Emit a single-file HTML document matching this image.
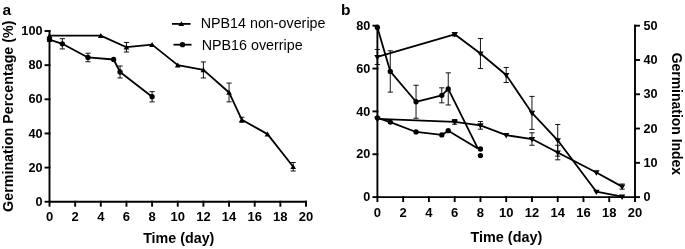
<!DOCTYPE html>
<html><head><meta charset="utf-8"><title>Germination</title>
<style>html,body{margin:0;padding:0;background:#fff}svg{display:block}</style></head>
<body>
<svg width="685" height="249" viewBox="0 0 685 249" font-family="'Liberation Sans', Arial, sans-serif">
<rect width="685" height="249" fill="#fff"/>
<g stroke="#000" stroke-width="1.9" fill="none" stroke-linecap="square">
<path d="M49.5 31V201.75H306"/>
<path d="M45.5 201.75H49.5"/>
<path d="M45.5 167.6H49.5"/>
<path d="M45.5 133.45H49.5"/>
<path d="M45.5 99.3H49.5"/>
<path d="M45.5 65.15H49.5"/>
<path d="M45.5 31H49.5"/>
<path d="M49.5 201.75V205.75"/>
<path d="M75.15 201.75V205.75"/>
<path d="M100.8 201.75V205.75"/>
<path d="M126.45 201.75V205.75"/>
<path d="M152.1 201.75V205.75"/>
<path d="M177.75 201.75V205.75"/>
<path d="M203.4 201.75V205.75"/>
<path d="M229.05 201.75V205.75"/>
<path d="M254.7 201.75V205.75"/>
<path d="M280.35 201.75V205.75"/>
<path d="M306 201.75V205.75"/>
</g>
<g font-weight="bold" font-size="13" fill="#000">
<text x="42.5" y="205.85" text-anchor="end" font-size="12.7">0</text>
<text x="42.5" y="171.7" text-anchor="end" font-size="12.7">20</text>
<text x="42.5" y="137.55" text-anchor="end" font-size="12.7">40</text>
<text x="42.5" y="103.4" text-anchor="end" font-size="12.7">60</text>
<text x="42.5" y="69.25" text-anchor="end" font-size="12.7">80</text>
<text x="42.5" y="35.1" text-anchor="end" font-size="12.7">100</text>
<text x="49.5" y="221.35" text-anchor="middle">0</text>
<text x="75.15" y="221.35" text-anchor="middle">2</text>
<text x="100.8" y="221.35" text-anchor="middle">4</text>
<text x="126.45" y="221.35" text-anchor="middle">6</text>
<text x="152.1" y="221.35" text-anchor="middle">8</text>
<text x="177.75" y="221.35" text-anchor="middle">10</text>
<text x="203.4" y="221.35" text-anchor="middle">12</text>
<text x="229.05" y="221.35" text-anchor="middle">14</text>
<text x="254.7" y="221.35" text-anchor="middle">16</text>
<text x="280.35" y="221.35" text-anchor="middle">18</text>
<text x="306" y="221.35" text-anchor="middle">20</text>
</g>
<text x="178.75" y="243.4" text-anchor="middle" font-weight="bold" font-size="14.3">Time (day)</text>
<text transform="translate(12.7 116.2) rotate(-90)" text-anchor="middle" font-weight="bold" font-size="14.3">Germination Percentage (%)</text>
<text x="2.6" y="14.7" font-weight="bold" font-size="15.5">a</text>
<path d="M49.5 35.61L100.8 35.61L126.45 47.22L152.1 44.66L177.75 65.15L203.4 69.93L229.05 92.47L241.88 119.79L267.52 134.13L293.18 166.75" fill="none" stroke="#000" stroke-width="1.8" stroke-linejoin="round"/>
<path d="M126.45 42.44V52M123.85 42.44h5.2M123.85 52h5.2" fill="none" stroke="#000" stroke-width="1" stroke-opacity="0.92"/>
<path d="M203.4 61.91V77.96M200.8 61.91h5.2M200.8 77.96h5.2" fill="none" stroke="#000" stroke-width="1" stroke-opacity="0.92"/>
<path d="M229.05 83.08V101.86M226.45 83.08h5.2M226.45 101.86h5.2" fill="none" stroke="#000" stroke-width="1" stroke-opacity="0.92"/>
<path d="M241.88 117.23V122.35M239.28 117.23h5.2M239.28 122.35h5.2" fill="none" stroke="#000" stroke-width="1" stroke-opacity="0.92"/>
<path d="M293.18 162.48V171.01M290.57 162.48h5.2M290.57 171.01h5.2" fill="none" stroke="#000" stroke-width="1" stroke-opacity="0.92"/>
<path d="M49.5 33.01l2.85 4.9h-5.7z"/>
<path d="M100.8 33.01l2.85 4.9h-5.7z"/>
<path d="M126.45 44.62l2.85 4.9h-5.7z"/>
<path d="M152.1 42.06l2.85 4.9h-5.7z"/>
<path d="M177.75 62.55l2.85 4.9h-5.7z"/>
<path d="M203.4 67.33l2.85 4.9h-5.7z"/>
<path d="M229.05 89.87l2.85 4.9h-5.7z"/>
<path d="M241.88 117.19l2.85 4.9h-5.7z"/>
<path d="M267.52 131.53l2.85 4.9h-5.7z"/>
<path d="M293.18 164.15l2.85 4.9h-5.7z"/>
<path d="M49.5 39.54L62.33 43.81L87.97 57.47L113.62 59.52L120.04 71.98L152.1 96.74" fill="none" stroke="#000" stroke-width="1.8" stroke-linejoin="round"/>
<path d="M49.5 37.83V41.25M46.9 37.83h5.2M46.9 41.25h5.2" fill="none" stroke="#000" stroke-width="1" stroke-opacity="0.92"/>
<path d="M62.33 38.68V48.93M59.73 38.68h5.2M59.73 48.93h5.2" fill="none" stroke="#000" stroke-width="1" stroke-opacity="0.92"/>
<path d="M87.97 53.2V61.74M85.38 53.2h5.2M85.38 61.74h5.2" fill="none" stroke="#000" stroke-width="1" stroke-opacity="0.92"/>
<path d="M120.04 66V77.96M117.44 66h5.2M117.44 77.96h5.2" fill="none" stroke="#000" stroke-width="1" stroke-opacity="0.92"/>
<path d="M152.1 91.62V101.86M149.5 91.62h5.2M149.5 101.86h5.2" fill="none" stroke="#000" stroke-width="1" stroke-opacity="0.92"/>
<circle cx="49.5" cy="39.54" r="2.65"/>
<circle cx="62.33" cy="43.81" r="2.65"/>
<circle cx="87.97" cy="57.47" r="2.65"/>
<circle cx="113.62" cy="59.52" r="2.65"/>
<circle cx="120.04" cy="71.98" r="2.65"/>
<circle cx="152.1" cy="96.74" r="2.65"/>
<path d="M172 23.9h18.6" stroke="#000" stroke-width="1.8"/><path d="M181.3 21.2l2.85 4.9h-5.7z"/>
<path d="M173.5 44.7h18" stroke="#000" stroke-width="1.8"/><circle cx="182.5" cy="44.7" r="2.65"/>
<text x="200.7" y="28.3" font-size="14.3">NPB14 non-overipe</text>
<text x="201.7" y="49.7" font-size="14.3">NPB16 overripe</text>
<g stroke="#000" stroke-width="1.9" fill="none" stroke-linecap="square">
<path d="M377.4 25.7V197.1H635V25.7"/>
<path d="M373.4 197.1H377.4"/>
<path d="M373.4 154.25H377.4"/>
<path d="M373.4 111.4H377.4"/>
<path d="M373.4 68.55H377.4"/>
<path d="M373.4 25.7H377.4"/>
<path d="M635 197.1H639"/>
<path d="M635 162.82H639"/>
<path d="M635 128.54H639"/>
<path d="M635 94.26H639"/>
<path d="M635 59.98H639"/>
<path d="M635 25.7H639"/>
<path d="M377.4 197.1V201.1"/>
<path d="M403.16 197.1V201.1"/>
<path d="M428.92 197.1V201.1"/>
<path d="M454.68 197.1V201.1"/>
<path d="M480.44 197.1V201.1"/>
<path d="M506.2 197.1V201.1"/>
<path d="M531.96 197.1V201.1"/>
<path d="M557.72 197.1V201.1"/>
<path d="M583.48 197.1V201.1"/>
<path d="M609.24 197.1V201.1"/>
<path d="M635 197.1V201.1"/>
</g>
<g font-weight="bold" font-size="13" fill="#000">
<text x="370.4" y="201.2" text-anchor="end" font-size="12.7">0</text>
<text x="370.4" y="158.35" text-anchor="end" font-size="12.7">20</text>
<text x="370.4" y="115.5" text-anchor="end" font-size="12.7">40</text>
<text x="370.4" y="72.65" text-anchor="end" font-size="12.7">60</text>
<text x="370.4" y="29.8" text-anchor="end" font-size="12.7">80</text>
<text x="643.4" font-size="12.7" y="201.2">0</text>
<text x="643.4" font-size="12.7" y="166.92">10</text>
<text x="643.4" font-size="12.7" y="132.64">20</text>
<text x="643.4" font-size="12.7" y="98.36">30</text>
<text x="643.4" font-size="12.7" y="64.08">40</text>
<text x="643.4" font-size="12.7" y="29.8">50</text>
<text x="377.4" y="216.8" text-anchor="middle">0</text>
<text x="403.16" y="216.8" text-anchor="middle">2</text>
<text x="428.92" y="216.8" text-anchor="middle">4</text>
<text x="454.68" y="216.8" text-anchor="middle">6</text>
<text x="480.44" y="216.8" text-anchor="middle">8</text>
<text x="506.2" y="216.8" text-anchor="middle">10</text>
<text x="531.96" y="216.8" text-anchor="middle">12</text>
<text x="557.72" y="216.8" text-anchor="middle">14</text>
<text x="583.48" y="216.8" text-anchor="middle">16</text>
<text x="609.24" y="216.8" text-anchor="middle">18</text>
<text x="635" y="216.8" text-anchor="middle">20</text>
</g>
<text x="506.4" y="241.7" text-anchor="middle" font-weight="bold" font-size="14.4">Time (day)</text>
<text transform="translate(672.2 113.9) rotate(90)" text-anchor="middle" font-weight="bold" font-size="13.95">Germination Index</text>
<text x="341" y="14.9" font-weight="bold" font-size="15.5">b</text>
<path d="M377.4 56.98L454.68 34.27L480.44 53.55L506.2 74.98L531.96 112.9L557.72 140.32L596.36 191.74L622.12 196.67" fill="none" stroke="#000" stroke-width="1.8" stroke-linejoin="round"/>
<path d="M377.4 49.48V64.48M374.8 49.48h5.2M374.8 64.48h5.2" fill="none" stroke="#000" stroke-width="1" stroke-opacity="0.92"/>
<path d="M454.68 32.56V35.98M452.08 32.56h5.2M452.08 35.98h5.2" fill="none" stroke="#000" stroke-width="1" stroke-opacity="0.92"/>
<path d="M480.44 38.55V68.55M477.84 38.55h5.2M477.84 68.55h5.2" fill="none" stroke="#000" stroke-width="1" stroke-opacity="0.92"/>
<path d="M506.2 67.48V82.48M503.6 67.48h5.2M503.6 82.48h5.2" fill="none" stroke="#000" stroke-width="1" stroke-opacity="0.92"/>
<path d="M531.96 96.4V129.4M529.36 96.4h5.2M529.36 129.4h5.2" fill="none" stroke="#000" stroke-width="1" stroke-opacity="0.92"/>
<path d="M557.72 124.47V156.18M555.12 124.47h5.2M555.12 156.18h5.2" fill="none" stroke="#000" stroke-width="1" stroke-opacity="0.92"/>
<path d="M377.4 60.28l3.2 -5.4h-6.4z"/>
<path d="M454.68 37.57l3.2 -5.4h-6.4z"/>
<path d="M480.44 56.85l3.2 -5.4h-6.4z"/>
<path d="M506.2 78.28l3.2 -5.4h-6.4z"/>
<path d="M531.96 116.2l3.2 -5.4h-6.4z"/>
<path d="M557.72 143.62l3.2 -5.4h-6.4z"/>
<path d="M596.36 195.04l3.2 -5.4h-6.4z"/>
<path d="M622.12 199.97l3.2 -5.4h-6.4z"/>
<path d="M377.4 118.9L454.68 121.9L480.44 125.33L506.2 135.18L531.96 139.04L557.72 152.54L596.36 172.46L622.12 186.6" fill="none" stroke="#000" stroke-width="1.8" stroke-linejoin="round"/>
<path d="M454.68 119.54V124.25M452.08 119.54h5.2M452.08 124.25h5.2" fill="none" stroke="#000" stroke-width="1" stroke-opacity="0.92"/>
<path d="M480.44 121.47V129.18M477.84 121.47h5.2M477.84 129.18h5.2" fill="none" stroke="#000" stroke-width="1" stroke-opacity="0.92"/>
<path d="M531.96 132.82V145.25M529.36 132.82h5.2M529.36 145.25h5.2" fill="none" stroke="#000" stroke-width="1" stroke-opacity="0.92"/>
<path d="M557.72 145.25V159.82M555.12 145.25h5.2M555.12 159.82h5.2" fill="none" stroke="#000" stroke-width="1" stroke-opacity="0.92"/>
<path d="M622.12 184.03V189.17M619.52 184.03h5.2M619.52 189.17h5.2" fill="none" stroke="#000" stroke-width="1" stroke-opacity="0.92"/>
<path d="M377.4 122.2l3.2 -5.4h-6.4z"/>
<path d="M454.68 125.2l3.2 -5.4h-6.4z"/>
<path d="M480.44 128.63l3.2 -5.4h-6.4z"/>
<path d="M506.2 138.48l3.2 -5.4h-6.4z"/>
<path d="M531.96 142.34l3.2 -5.4h-6.4z"/>
<path d="M557.72 155.84l3.2 -5.4h-6.4z"/>
<path d="M596.36 175.76l3.2 -5.4h-6.4z"/>
<path d="M622.12 189.9l3.2 -5.4h-6.4z"/>
<path d="M377.4 27.41L390.28 71.44L416.04 101.76L441.8 95.33L448.24 88.9L477.8 148.4" fill="none" stroke="#000" stroke-width="1.8" stroke-linejoin="round"/>
<path d="M390.28 50.77V92.12M387.68 50.77h5.2M387.68 92.12h5.2" fill="none" stroke="#000" stroke-width="1" stroke-opacity="0.92"/>
<path d="M416.04 85.26V118.26M413.44 85.26h5.2M413.44 118.26h5.2" fill="none" stroke="#000" stroke-width="1" stroke-opacity="0.92"/>
<path d="M441.8 87.83V102.83M439.2 87.83h5.2M439.2 102.83h5.2" fill="none" stroke="#000" stroke-width="1" stroke-opacity="0.92"/>
<path d="M448.24 72.83V104.97M445.64 72.83h5.2M445.64 104.97h5.2" fill="none" stroke="#000" stroke-width="1" stroke-opacity="0.92"/>
<circle cx="377.4" cy="27.41" r="2.65"/>
<circle cx="390.28" cy="71.44" r="2.65"/>
<circle cx="416.04" cy="101.76" r="2.65"/>
<circle cx="441.8" cy="95.33" r="2.65"/>
<circle cx="448.24" cy="88.9" r="2.65"/>
<circle cx="480.44" cy="149" r="2.65"/>
<path d="M377.4 117.83L390.28 122.11L416.04 131.97L441.8 134.97L448.24 130.68L477.8 148.4" fill="none" stroke="#000" stroke-width="1.8" stroke-linejoin="round"/>
<circle cx="377.4" cy="117.83" r="2.65"/>
<circle cx="390.28" cy="122.11" r="2.65"/>
<circle cx="416.04" cy="131.97" r="2.65"/>
<circle cx="441.8" cy="134.97" r="2.65"/>
<circle cx="448.24" cy="130.68" r="2.65"/>
<circle cx="480.44" cy="155.54" r="2.65"/>
</svg>
</body></html>
